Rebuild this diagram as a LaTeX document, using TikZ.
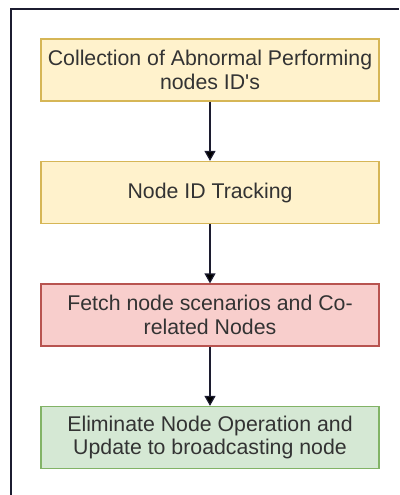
\documentclass[tikz,border=0pt]{standalone}
\usepackage{fontspec}
\setmainfont{Liberation Sans}[Ligatures=TeXOff]
\usepackage{tikz}
\usetikzlibrary{%
  positioning
 ,arrows.meta
}
\definecolor{ylwfill}{HTML}{FFF2CC}
\definecolor{ylwline}{HTML}{D6B656}
\definecolor{redfill}{HTML}{F8CECC}
\definecolor{redline}{HTML}{B85450}
\definecolor{grnfill}{HTML}{D5E8D4}
\definecolor{grnline}{HTML}{82B366}
\definecolor{txt}{HTML}{333333}
\definecolor{frm}{HTML}{1C1C30}
\tikzstyle{flow}=[node distance=122.5pt,on grid,x=1pt,y=1pt]
\tikzstyle{stage}=[rectangle,draw,line width=1.2pt,minimum width=338pt,minimum height=62pt,
  inner sep=0pt,align=center,text=txt,font=\fontsize{21.3}{23.5}\selectfont]
\tikzstyle{ylw}=[stage,fill=ylwfill,draw=ylwline]
\tikzstyle{rd}=[stage,fill=redfill,draw=redline]
\tikzstyle{grn}=[stage,fill=grnfill,draw=grnline]
\tikzstyle{arr}=[draw=frm,line width=1.2pt,-{Triangle[length=10pt,width=11pt]}]

\begin{document}
\begin{tikzpicture}[flow]
  \useasboundingbox (0,0) rectangle (399,-495);
  % frame
  \draw[frm,line width=1.6pt] (11,-495) -- (11,-9) -- (399,-9);
%
  \node[ylw] (collect) at (210,-70) {Collection of Abnormal Performing\\nodes ID's};
  \node[ylw,below of=collect] (track) {Node ID Tracking};
  \node[rd] (fetch) [below of=track] {Fetch node scenarios and Co-\\related Nodes};
  \node[grn] (elim) [below of=fetch] {Eliminate Node Operation and\\Update to broadcasting node};
%
  \path[arr]
  (collect) edge (track)
  (track) edge (fetch)
  (fetch) edge (elim);
\end{tikzpicture}
\end{document}
